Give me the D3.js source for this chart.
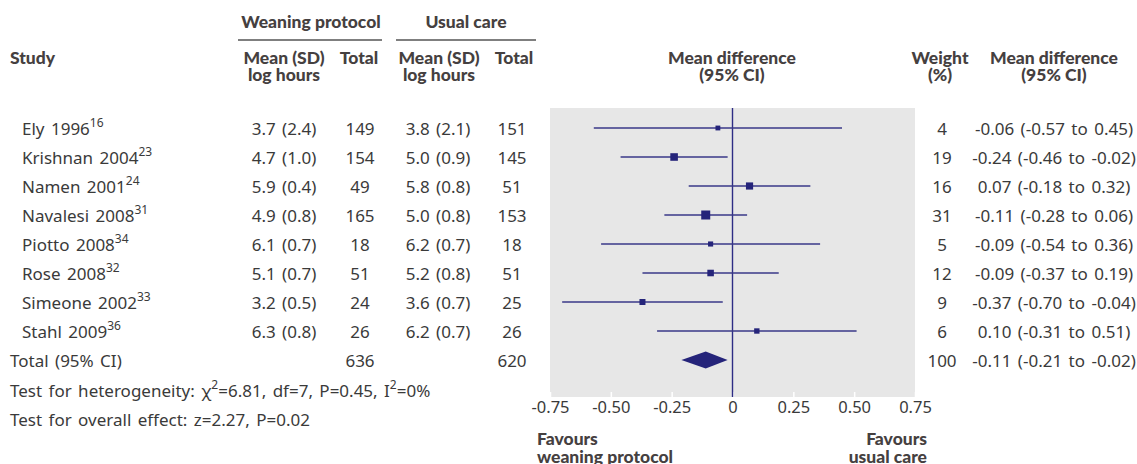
<!DOCTYPE html>
<html>
<head>
<meta charset="utf-8">
<script src="https://cdn.jsdelivr.net/npm/d3@7/dist/d3.min.js"></script>
<style>
  html, body { margin: 0; padding: 0; background: #fff; }
  svg { display: block; }
  .body { font-family: "Noto Sans", "Open Sans", sans-serif; font-size: 17px; word-spacing: 2px; fill: #3a3a3a; }
  .head { font-family: "Lato", "Noto Sans", sans-serif; font-weight: 900; font-size: 17.5px; fill: #454040; }
</style>
</head>
<body>
<svg id="chart" width="1137" height="464"></svg>
<script>
// Weaning protocol vs usual care: duration of mechanical ventilation (log hours)
const studies   = ["Ely 1996", "Krishnan 2004", "Namen 2001", "Navalesi 2008", "Piotto 2008", "Rose 2008", "Simeone 2002", "Stahl 2009"];
const refs      = ["16", "23", "24", "31", "34", "32", "33", "36"];
const weanMean  = [3.7, 4.7, 5.9, 4.9, 6.1, 5.1, 3.2, 6.3];
const weanSD    = [2.4, 1.0, 0.4, 0.8, 0.7, 0.7, 0.5, 0.8];
const weanN     = [149, 154, 49, 165, 18, 51, 24, 26];
const usualMean = [3.8, 5.0, 5.8, 5.0, 6.2, 5.2, 3.6, 6.2];
const usualSD   = [2.1, 0.9, 0.8, 0.8, 0.7, 0.8, 0.7, 0.7];
const usualN    = [151, 145, 51, 153, 18, 51, 25, 26];
const weights   = [4, 19, 16, 31, 5, 12, 9, 6];
const meanDiff  = [-0.06, -0.24, 0.07, -0.11, -0.09, -0.09, -0.37, 0.10];
const ciLow     = [-0.57, -0.46, -0.18, -0.28, -0.54, -0.37, -0.70, -0.31];
const ciHigh    = [0.45, -0.02, 0.32, 0.06, 0.36, 0.19, -0.04, 0.51];

// Pooled estimate
const totalWeanN = 636;
const totalUsualN = 620;
const totalWeight = 100;
const pooledMD = -0.11;
const pooledLow = -0.21;
const pooledHigh = -0.02;

const tickValues = [-0.75, -0.50, -0.25, 0, 0.25, 0.50, 0.75];
const tickLabels = ["-0.75", "-0.50", "-0.25", "0", "0.25", "0.50", "0.75"];

const svg = d3.select("#chart");
const navy = "#25247a";

// Scales
const x = d3.scaleLinear().domain([-0.75, 0.75]).range([550, 915]);
const rowY = d3.scaleLinear().domain([0, 1]).range([128, 157]);
const boxSize = d3.scaleSqrt().domain([0, 31]).range([2.5, 9]);

const panelTop = 108, panelBottom = 397;

// Plot panel
svg.append("rect")
  .attr("x", x(-0.75)).attr("y", panelTop)
  .attr("width", x(0.75) - x(-0.75)).attr("height", panelBottom - panelTop)
  .attr("fill", "#e7e7e7");

// Axis: white ticks inside the panel, labels below
const axis = d3.axisBottom(x)
  .tickValues(tickValues)
  .tickFormat((d, i) => tickLabels[i])
  .tickSizeInner(-5).tickSizeOuter(0).tickPadding(4);
const gAxis = svg.append("g").attr("transform", `translate(0,${panelBottom})`).call(axis);
gAxis.select(".domain").remove();
gAxis.selectAll(".tick line").attr("stroke", "#ffffff").attr("stroke-width", 1.5);
gAxis.selectAll(".tick text")
  .style("font-family", "'Noto Sans', 'Open Sans', sans-serif")
  .style("font-size", "16.5px")
  .attr("fill", "#3a3a3a");

// Line of no effect
svg.append("line")
  .attr("x1", x(0)).attr("x2", x(0))
  .attr("y1", panelTop).attr("y2", panelBottom)
  .attr("stroke", "#2e2d85").attr("stroke-width", 1.4);

// Confidence intervals and point estimates
const idx = d3.range(studies.length);
svg.append("g").selectAll("line").data(idx).join("line")
  .attr("x1", i => x(ciLow[i])).attr("x2", i => x(ciHigh[i]))
  .attr("y1", i => rowY(i)).attr("y2", i => rowY(i))
  .attr("stroke", "#3a3988").attr("stroke-width", 1.6);

svg.append("g").selectAll("rect").data(idx).join("rect")
  .attr("x", i => x(meanDiff[i]) - boxSize(weights[i]) / 2)
  .attr("y", i => rowY(i) - boxSize(weights[i]) / 2)
  .attr("width", i => boxSize(weights[i]))
  .attr("height", i => boxSize(weights[i]))
  .attr("fill", navy);

// Pooled diamond
const yTot = rowY(studies.length);
svg.append("path")
  .attr("d", d3.line()([[x(pooledLow), yTot], [x(pooledMD), yTot - 8.5], [x(pooledHigh), yTot], [x(pooledMD), yTot + 8.5]]) + "Z")
  .attr("fill", navy);

// Helpers for text
function txt(cls, xp, yp, s, anchor) {
  return svg.append("text").attr("class", cls)
    .attr("x", xp).attr("y", yp)
    .attr("text-anchor", anchor || "start")
    .attr("dominant-baseline", "central")
    .text(s);
}
function sup(sel, s) {
  sel.append("tspan").attr("font-size", "12px").attr("dy", -6).text(s);
}

// Header
txt("head", 311, 21, "Weaning protocol", "middle");
txt("head", 466, 21, "Usual care", "middle");
svg.append("line").attr("x1", 238).attr("x2", 382).attr("y1", 40).attr("y2", 40).attr("stroke", "#555").attr("stroke-width", 1.3);
svg.append("line").attr("x1", 396).attr("x2", 536).attr("y1", 40).attr("y2", 40).attr("stroke", "#555").attr("stroke-width", 1.3);

txt("head", 10, 57, "Study");
txt("head", 284, 57, "Mean (SD)", "middle");
txt("head", 284, 74, "log hours", "middle");
txt("head", 359, 57, "Total", "middle");
txt("head", 439, 57, "Mean (SD)", "middle");
txt("head", 439, 74, "log hours", "middle");
txt("head", 514, 57, "Total", "middle");
txt("head", 732, 57, "Mean difference", "middle");
txt("head", 732, 74, "(95% CI)", "middle");
txt("head", 940, 57, "Weight", "middle");
txt("head", 940, 74, "(%)", "middle");
txt("head", 1054, 57, "Mean difference", "middle");
txt("head", 1054, 74, "(95% CI)", "middle");

// Study rows
const fmtCI = (m, lo, hi) => `${m.toFixed(2)} (${lo.toFixed(2)} to ${hi.toFixed(2)})`;
idx.forEach(i => {
  const y = rowY(i);
  sup(txt("body", 22, y, studies[i]), refs[i]);
  txt("body", 284, y, `${weanMean[i].toFixed(1)} (${weanSD[i].toFixed(1)})`, "middle");
  txt("body", 360, y, weanN[i], "middle");
  txt("body", 438, y, `${usualMean[i].toFixed(1)} (${usualSD[i].toFixed(1)})`, "middle");
  txt("body", 512, y, usualN[i], "middle");
  txt("body", 942, y, weights[i], "middle");
  txt("body", 1054, y, fmtCI(meanDiff[i], ciLow[i], ciHigh[i]), "middle");
});

// Total row
txt("body", 10, yTot, "Total (95% CI)");
txt("body", 360, yTot, totalWeanN, "middle");
txt("body", 512, yTot, totalUsualN, "middle");
txt("body", 942, yTot, totalWeight, "middle");
txt("body", 1054, yTot, fmtCI(pooledMD, pooledLow, pooledHigh), "middle");

// Heterogeneity and overall effect
const het = txt("body", 10, 390, "Test for heterogeneity: ");
het.append("tspan").text("χ");
sup(het, "2");
het.append("tspan").attr("dy", 6).text("=6.81, df=7, P=0.45, I");
sup(het, "2");
het.append("tspan").attr("dy", 6).text("=0%");
txt("body", 10, 419, "Test for overall effect: z=2.27, P=0.02");

// Direction labels
txt("head", 537, 438, "Favours");
txt("head", 537, 456, "weaning protocol");
txt("head", 927, 438, "Favours", "end");
txt("head", 927, 456, "usual care", "end");
</script>
</body>
</html>
